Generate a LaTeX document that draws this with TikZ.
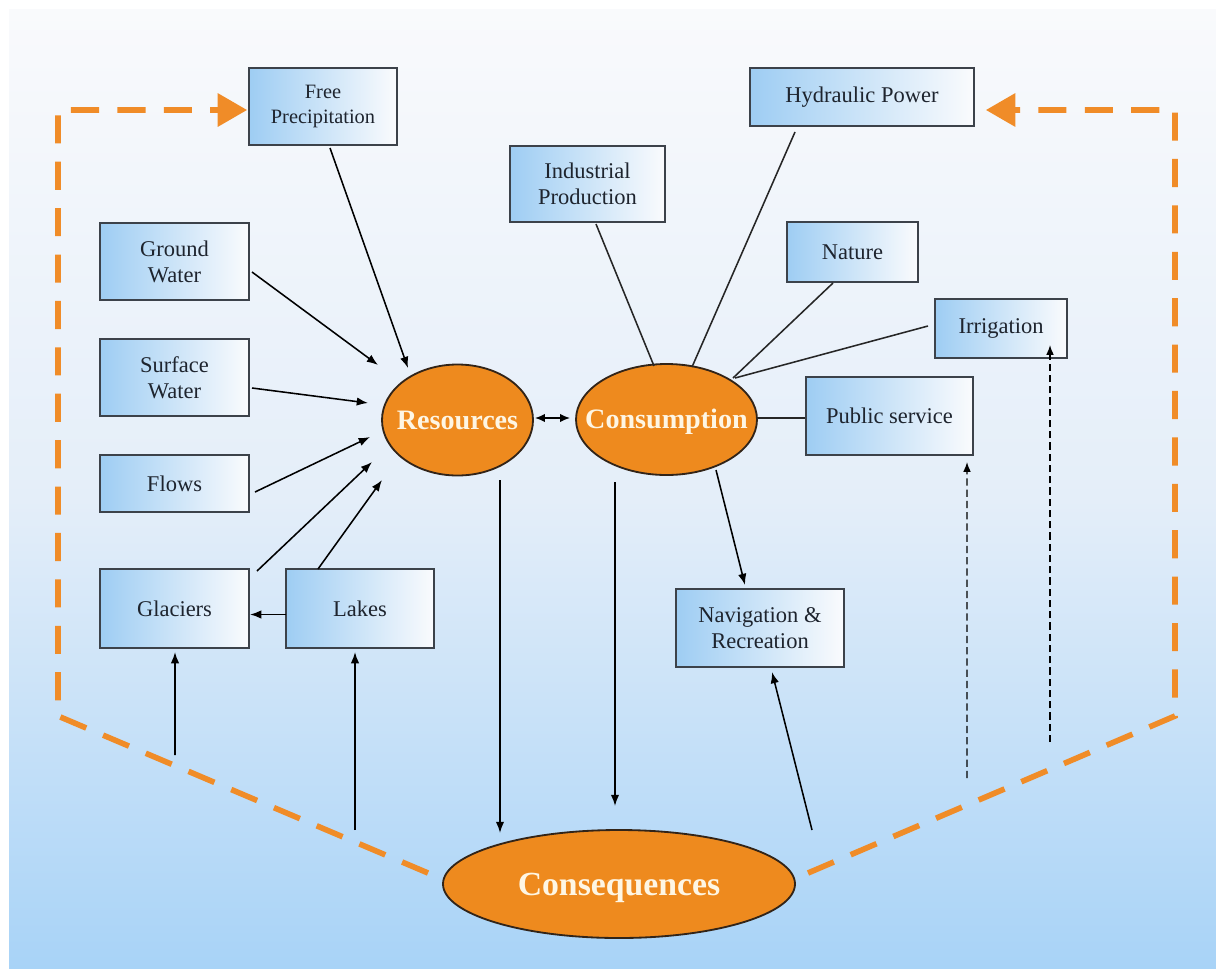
\documentclass[tikz,border=0pt]{standalone}
\usepackage{fontspec}
\setmainfont{Liberation Serif}
\usetikzlibrary{arrows.meta,calc,shapes.geometric}
\definecolor{bgtop}{RGB}{249,250,252}
\definecolor{bgmid}{RGB}{228,238,249}
\definecolor{bgbot}{RGB}{168,211,247}
\definecolor{boxblue}{RGB}{158,205,243}
\definecolor{boxmid}{RGB}{224,237,249}
\definecolor{boxright}{RGB}{250,251,253}
\definecolor{boxline}{RGB}{60,66,74}
\definecolor{boxtext}{RGB}{30,36,46}
\definecolor{orangefill}{RGB}{238,138,30}
\definecolor{ellline}{RGB}{50,36,24}
\definecolor{cream}{RGB}{254,246,228}
\definecolor{odash}{RGB}{240,140,40}
\newcommand{\elltext}[1]{\makebox[0pt]{\raisebox{-0.33em}[0pt][0pt]{#1}}}
\begin{document}
\begin{tikzpicture}[x=0.025cm,y=-0.025cm,
  box/.style 2 args={draw=boxline, line width=1.2pt, left color=boxblue, middle color=boxmid, right color=boxright,
    align=center, text=boxtext, inner sep=0pt, font=\fontsize{16}{18.4}\selectfont,
    minimum width=#1*0.025cm, minimum height=#2*0.025cm},
  ell/.style 2 args={ellipse, draw=ellline, line width=1.3pt, fill=orangefill, text=cream, inner sep=0pt,
    minimum width=#1*0.025cm, minimum height=#2*0.025cm},
  arr/.style={line width=1.1pt, draw=black, -{Latex[length=8pt,width=6pt]}},
  darr/.style={line width=1.1pt, draw=black, {Latex[length=7pt,width=6pt]}-{Latex[length=7pt,width=6pt]}},
  ln/.style={line width=1.1pt, draw=black!85},
  dsh/.style={line width=1.0pt, draw=black, dash pattern=on 5pt off 3pt, -{Latex[length=7pt,width=5.5pt]}},
  orng/.style={line width=4pt, draw=odash, dash pattern=on 20pt off 13pt}
]
\useasboundingbox (0,0) rectangle (1216,968);
\fill[white] (0,0) rectangle (1216,968);
\shade[top color=bgtop,bottom color=bgmid] (9,9) rectangle (1216,500.5);
\shade[top color=bgmid,bottom color=bgbot] (9,500) rectangle (1216,968);

% boxes
\node[box={148}{77}, font=\fontsize{14.5}{17.7}\selectfont] (fp) at (323,106.5) {Free\\Precipitation};
\node[box={224}{58}] (hp) at (862,97) {Hydraulic Power};
\node[box={155}{76}] (ip) at (587.5,184) {Industrial\\Production};
\node[box={131}{60}] (na) at (852.5,252) {Nature};
\node[box={132}{59}] (ir) at (1001,328.5) {Irrigation};
\node[box={167}{78}] (ps) at (889.5,416) {Public service};
\node[box={149}{77}] (gw) at (174.5,261.5) {Ground\\Water};
\node[box={149}{77}] (sw) at (174.5,377.5) {Surface\\Water};
\node[box={149}{57}] (fl) at (174.5,483.5) {Flows};
\node[box={149}{79}] (gl) at (174.5,608.5) {Glaciers};
\node[box={148}{79}] (la) at (360,608.5) {Lakes};
\node[box={168}{78}] (nr) at (760,628) {Navigation \&\\Recreation};

% ellipses
\node[ell={151}{111}, font=\fontsize{20}{24}\bfseries] (res) at (457.5,420) {\elltext{Resources}};
\node[ell={181}{111}, font=\fontsize{20}{24}\bfseries] (con) at (666.5,419.5) {\elltext{Consumption}};
\node[ell={352}{108}, font=\fontsize{24}{28}\bfseries] (cq) at (619,884) {\elltext{Consequences}};

% free ends
\coordinate (c1) at (175,755);
\coordinate (c2) at (355,830);
\coordinate (c3) at (812,830);
\coordinate (c4) at (967,778);
\coordinate (c5) at (1050,742);
\coordinate (oL1) at (58,110);
\coordinate (oL2) at (58,716);
\coordinate (oL3) at (428,873);
\coordinate (oR1) at (1175,110);
\coordinate (oR2) at (1175,716);
\coordinate (oR3) at (808,873);

% orange dashed frame
\draw[orng, -{Triangle[length=21pt,width=23pt]}] (oL3) -- (oL2) -- (oL1) -- ($(fp.west)+(-1,3.5)$);
\draw[orng, -{Triangle[length=21pt,width=23pt]}] (oR3) -- (oR2) -- (oR1) -- ($(hp.east)+(11,13)$);

% inputs to resources
\draw[arr] ($(fp)+(7,41.5)$) -- ($(res)+(-49.5,-52)$);
\draw[arr] ($(gw)+(77.5,10.5)$) -- ($(res)+(-79.5,-55)$);
\draw[arr] ($(sw)+(77.5,10.5)$) -- ($(res)+(-89.5,-17)$);
\draw[arr] ($(fl)+(80.5,8.5)$) -- ($(res)+(-87.5,17)$);
\draw[arr] ($(gl)+(82.5,-37.5)$) -- ($(res)+(-85.5,42)$);
\draw[arr] ($(la)+(-42,-39.5)$) -- ($(res)+(-75.5,60)$);
\draw[arr] ($(la)+(-74,6)$) -- ($(gl)+(75.5,6)$);
\draw[arr] (c1) -- ($(gl)+(0.5,43.5)$);
\draw[arr] (c2) -- ($(la)+(-5,43.5)$);

% resources / consumption
\draw[darr] ($(res)+(77.5,-2)$) -- ($(con)+(-96.5,-1.5)$);
\draw[arr] ($(res)+(42.5,60)$) -- ($(cq)+(-119,-51)$);
\draw[arr] ($(con)+(-51.5,62.5)$) -- ($(cq)+(-4,-78)$);
\draw[arr] ($(con)+(49.5,50.5)$) -- ($(nr)+(-15,-43)$);
\draw[arr] (c3) -- ($(nr)+(12,44)$);

% consumption branches
\draw[ln] ($(ip)+(8.5,40)$) -- ($(con)+(-12.5,-53.5)$);
\draw[ln] ($(hp)+(-67,35)$) -- ($(con)+(25.5,-52.5)$);
\draw[ln] ($(na)+(-19.5,31)$) -- ($(con)+(66.5,-41.5)$);
\draw[ln] ($(ir)+(-73,-2.5)$) -- ($(con)+(68.5,-41.5)$);
\draw[ln] ($(ps.west)+(0,2)$) -- ($(con)+(90.5,-1.5)$);

% dashed feedback arrows
\draw[dsh] (c4) -- ($(ps)+(77.5,46)$);
\draw[dsh] (c5) -- ($(ir)+(49,16.5)$);
\end{tikzpicture}
\end{document}
